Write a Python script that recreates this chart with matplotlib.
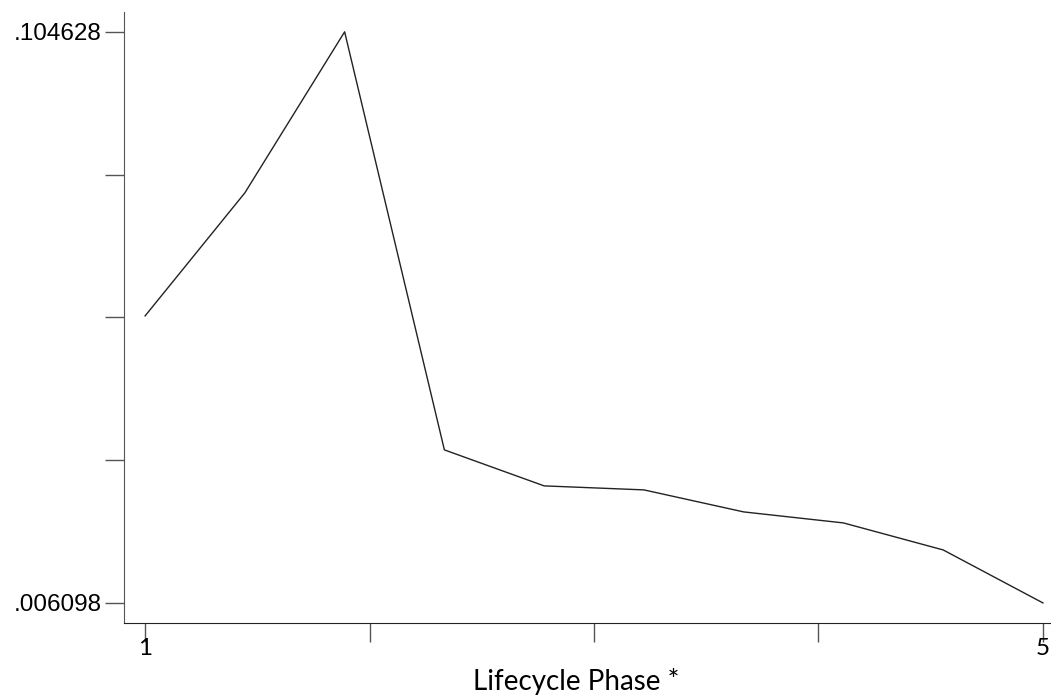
import numpy as np
import matplotlib.pyplot as plt

# Data (10 evenly spaced points from phase 1 to 5)
phase = np.linspace(1, 5, 10)
value = [0.05562, 0.07685, 0.104628, 0.03250, 0.02629,
         0.02560, 0.02180, 0.01990, 0.01524, 0.006098]

y_min, y_max = 0.006098, 0.104628
x_ticks = [1, 2, 3, 4, 5]
x_labels = ['1', '', '', '', '5']
y_ticks = np.linspace(y_min, y_max, 5)
y_labels = ['.006098', '', '', '', '.104628']

fig = plt.figure(figsize=(10.51, 6.96), dpi=100, facecolor='white')
ax = fig.add_axes([0.118, 0.105, 0.882, 0.878])

ax.plot(phase, value, color='#222222', linewidth=1.0)

ax.set_xlim(0.906, 5.036)
ax.set_ylim(0.002647, 0.108079)

ax.set_xticks(x_ticks)
ax.set_xticklabels(x_labels, fontfamily='Lato', fontsize=17.5)
ax.set_yticks(y_ticks)
ax.set_yticklabels(y_labels, fontfamily='Liberation Sans', fontsize=17.5)

ax.spines['top'].set_visible(False)
ax.spines['right'].set_visible(False)
ax.spines['left'].set_color('#555555')
ax.spines['bottom'].set_color('#222222')
ax.tick_params(axis='both', length=14, width=1, color='#555555')
ax.tick_params(axis='x', pad=-3)
ax.tick_params(axis='y', pad=2)

fig.text(576 / 1051, 6 / 696, 'Lifecycle Phase *', fontfamily='Lato',
         fontsize=20, ha='center', va='baseline')

fig.savefig('out.png', dpi=100, facecolor='white')
